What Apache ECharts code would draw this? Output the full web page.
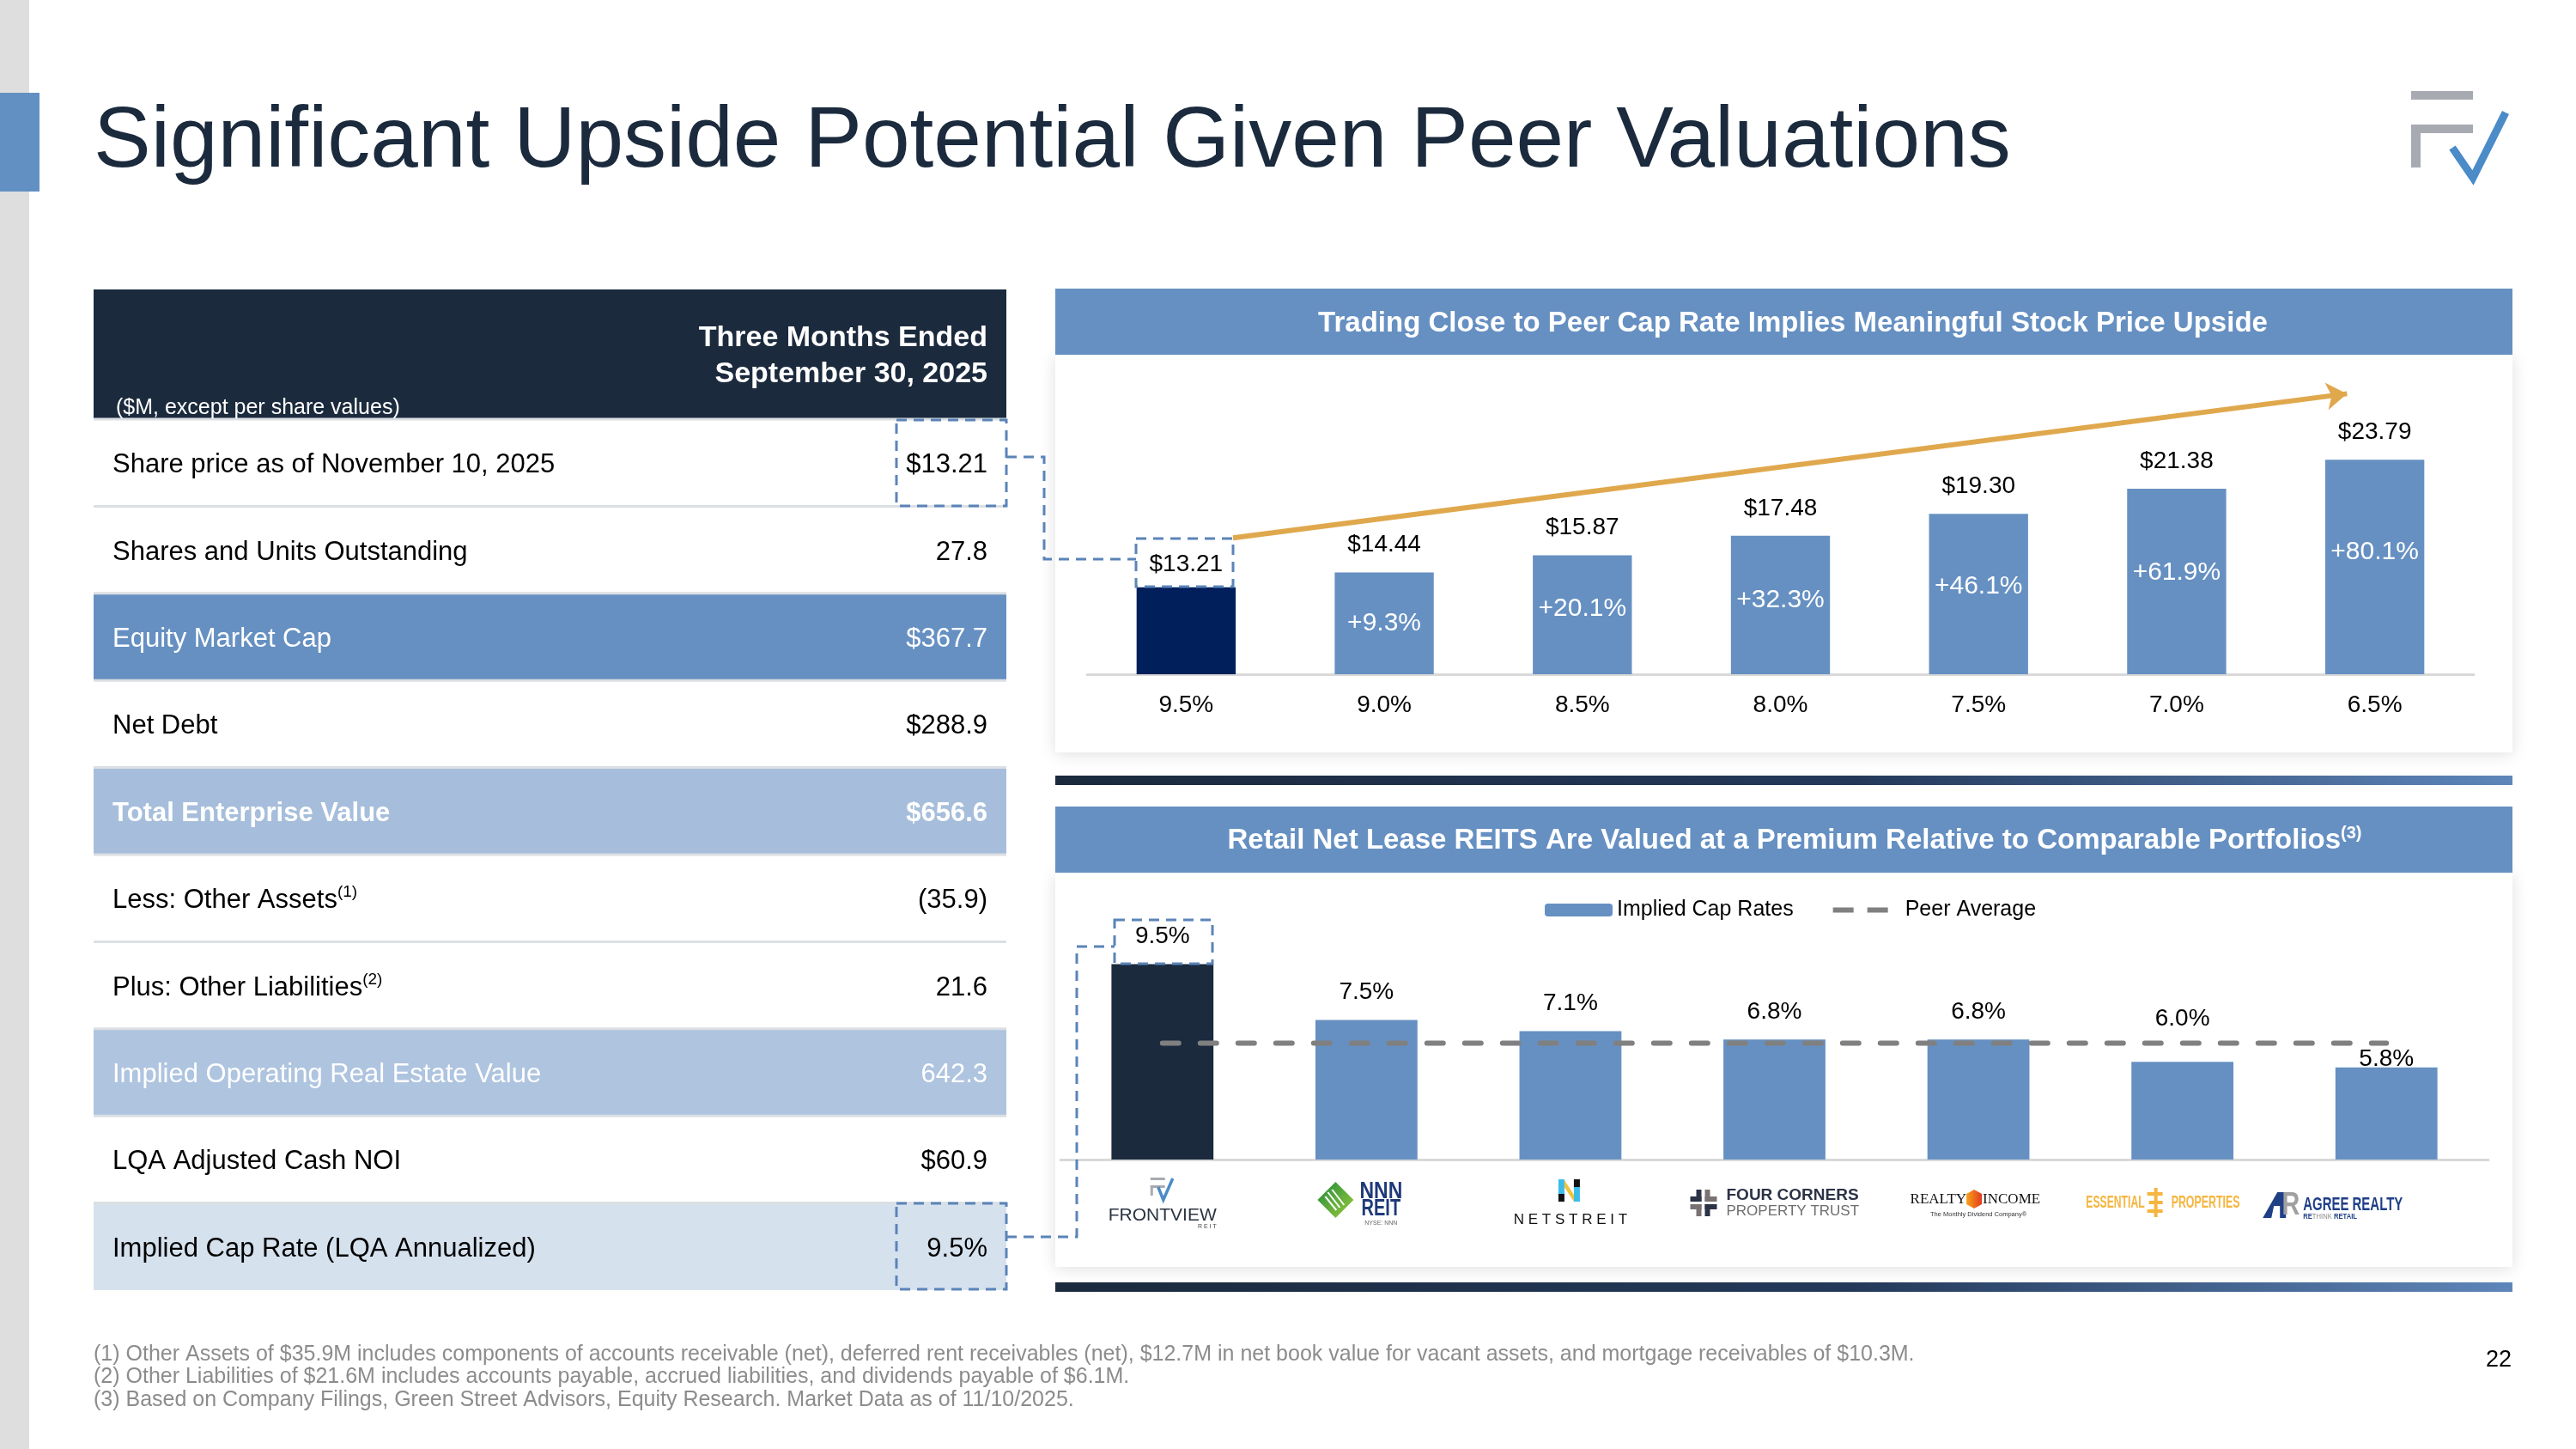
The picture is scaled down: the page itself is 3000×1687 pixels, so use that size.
<!DOCTYPE html>
<html>
<head>
<meta charset="utf-8">
<script src="https://cdn.jsdelivr.net/npm/echarts@6/dist/echarts.min.js"></script>
<style>html,body{margin:0;padding:0;background:#fff}#c{width:3000px;height:1687px}</style>
</head>
<body>
<div id="c"></div>
<script>
// ---------------- DATA ----------------
const tableLabels = ['Share price as of November 10, 2025', 'Shares and Units Outstanding', 'Equity Market Cap', 'Net Debt', 'Total Enterprise Value', 'Less: Other Assets', 'Plus: Other Liabilities', 'Implied Operating Real Estate Value', 'LQA Adjusted Cash NOI', 'Implied Cap Rate (LQA Annualized)'];
const tableNotes = ['', '', '', '', '', '(1)', '(2)', '', '', ''];
const tableValues = ['$13.21', '27.8', '$367.7', '$288.9', '$656.6', '(35.9)', '21.6', '642.3', '$60.9', '9.5%'];
const capRateScenarios = ['9.5%', '9.0%', '8.5%', '8.0%', '7.5%', '7.0%', '6.5%'];
const impliedPrices = [13.21, 14.44, 15.87, 17.48, 19.30, 21.38, 23.79];
const priceUpside = [null, 9.3, 20.1, 32.3, 46.1, 61.9, 80.1];
const peerNames = ['FrontView REIT', 'NNN REIT', 'NETSTREIT', 'Four Corners Property Trust', 'Realty Income', 'Essential Properties', 'Agree Realty'];
const peerCapRates = [9.5, 7.5, 7.1, 6.8, 6.8, 6.0, 5.8];
const peerAverage = 6.67;
const footnotes = [
  '(1) Other Assets of $35.9M includes components of accounts receivable (net), deferred rent receivables (net), $12.7M in net book value for vacant assets, and mortgage receivables of $10.3M.',
  '(2) Other Liabilities of $21.6M includes accounts payable, accrued liabilities, and dividends payable of $6.1M.',
  '(3) Based on Company Filings, Green Street Advisors, Equity Research. Market Data as of 11/10/2025.'
];

// ---------------- STYLE ----------------
const FONT = '"Liberation Sans", Arial, Helvetica, sans-serif';
const SERIF = '"Liberation Serif", "Times New Roman", serif';
const NAVY = '#1b2a3d';
const BLUE = '#6690c2';
const DASH = '#5b84b8';
const upsideOffsets = [0, 0, -7, -6, -9, -10, -17];
const priceLabelOffsets = [6, 0, 0, 0, 0, 0, 0];
const capLabelOffsets = [0, 0, 0, 0, 0, -18, 23];
const peerLegendIcon = 'path://M0,0L0.01,0M78.99,15L79,15M0,4.5H24V10.5H0ZM40,4.5H64V10.5H40Z';

const chart = echarts.init(document.getElementById('c'), null, {renderer: 'canvas'});

const option = {
  animation: false,
  backgroundColor: '#ffffff',
  textStyle: {fontFamily: FONT},
  grid: [
    {left: 1266, right: 119, top: 448, bottom: 902},
    {left: 1235, right: 102, top: 1057.5, bottom: 337}
  ],
  xAxis: [
    {type: 'category', gridIndex: 0, data: capRateScenarios,
      axisLine: {lineStyle: {color: '#d9d9d9', width: 3}}, axisTick: {show: false},
      axisLabel: {fontSize: 28, color: '#000', margin: 22, fontFamily: FONT}},
    {type: 'value', gridIndex: 0, min: -0.5, max: 6.5, show: false},
    {type: 'category', gridIndex: 1, data: peerNames,
      axisLine: {lineStyle: {color: '#d9d9d9', width: 3}}, axisTick: {show: false},
      axisLabel: {show: false}}
  ],
  yAxis: [
    {type: 'value', gridIndex: 0, min: 6, max: 30, startValue: 6, show: false, splitLine: {show: false}},
    {type: 'value', gridIndex: 1, min: 2.5, max: 11.5, startValue: 2.5, show: false, splitLine: {show: false}}
  ],
  legend: {
    data: [{name: 'Implied Cap Rates'}, {name: 'Peer Average', icon: peerLegendIcon, itemStyle: {color: '#808080', borderWidth: 0}}],
    left: 1794, top: 1042, itemWidth: 79, itemHeight: 15, itemGap: 46,
    textStyle: {fontSize: 25, color: '#000', fontFamily: FONT}
  },
  series: [
    {
      type: 'bar', name: 'Implied Share Price', xAxisIndex: 0, yAxisIndex: 0,
      barWidth: '50%', barGap: '-100%', clip: true,
      data: impliedPrices.map((v, i) => ({value: v, itemStyle: {color: i === 0 ? '#001f5b' : BLUE}, label: {offset: [0, priceLabelOffsets[i]]}})),
      label: {show: true, position: 'top', distance: 18, fontSize: 28, color: '#000', fontFamily: FONT,
        formatter: p => '$' + p.value.toFixed(2)}
    },
    {
      type: 'bar', name: 'Upside', xAxisIndex: 0, yAxisIndex: 0,
      barWidth: '50%', barGap: '-100%', silent: true, clip: true,
      itemStyle: {color: 'rgba(0,0,0,0)'},
      data: impliedPrices.map((v, i) => ({value: v, label: {show: priceUpside[i] != null, offset: [0, upsideOffsets[i]]}})),
      label: {position: 'inside', fontSize: 30, color: '#fff', fontFamily: FONT,
        formatter: p => priceUpside[p.dataIndex] == null ? '' : '+' + priceUpside[p.dataIndex].toFixed(1) + '%'}
    },
    {
      type: 'line', name: 'Trend', xAxisIndex: 1, yAxisIndex: 0, data: [], silent: true,
      markLine: {
        silent: true, symbol: ['none', 'arrow'], symbolSize: 24, animation: false,
        label: {show: false},
        itemStyle: {color: '#e0a84d'},
        lineStyle: {color: '#e0a84d', width: 6, type: 'solid'},
        emphasis: {disabled: true},
        data: [[{coord: [0.237, 17.31]}, {coord: [5.86, 29.26]}]]
      }
    },
    {
      type: 'bar', name: 'Implied Cap Rates', xAxisIndex: 2, yAxisIndex: 1,
      barWidth: '50%', clip: true, itemStyle: {color: BLUE},
      data: peerCapRates.map((v, i) => {
        const d = {value: v, label: {offset: [0, capLabelOffsets[i]]}};
        if (i === 0) d.itemStyle = {color: NAVY};
        return d;
      }),
      label: {show: true, position: 'top', distance: 18, fontSize: 28, color: '#000', fontFamily: FONT,
        formatter: p => p.value.toFixed(1) + '%'}
    },
    {
      type: 'line', name: 'Peer Average', xAxisIndex: 2, yAxisIndex: 1, z: 5,
      data: [[peerNames[0], peerAverage], [peerNames[peerNames.length - 1], peerAverage]],
      symbol: 'none', silent: true,
      itemStyle: {color: '#808080'},
      lineStyle: {color: '#808080', width: 6, type: [19, 25], cap: 'round'}
    }
  ]
};
chart.setOption(option);

// ---------------- DECORATION / TABLE (graphic) ----------------
function rect(x, y, w, h, fill, z, extra) {
  return Object.assign({type: 'rect', z: z == null ? 1 : z, silent: true, shape: {x, y, width: w, height: h}, style: {fill}}, extra || {});
}
function dashRect(x, y, w, h) {
  return {type: 'rect', z: 30, silent: true, shape: {x, y, width: w, height: h},
    style: {fill: 'none', stroke: DASH, lineWidth: 3, lineDash: [12, 8]}};
}
function dashLine(points) {
  return {type: 'polyline', z: 30, silent: true, shape: {points},
    style: {fill: 'none', stroke: DASH, lineWidth: 3, lineDash: [12, 8]}};
}
function text(x, y, str, size, color, o) {
  o = o || {};
  const el = {type: 'text', x, y, z: o.z == null ? 20 : o.z, silent: true,
    style: {text: str, fill: color, fontSize: size, fontFamily: o.family || FONT, fontWeight: o.weight || 'normal',
      align: o.align || 'left', textAlign: o.align || 'left', verticalAlign: o.va || 'middle', textVerticalAlign: o.va || 'middle'}};
  if (o.rich) el.style.rich = o.rich;
  if (o.scaleX) el.scaleX = o.scaleX;
  return el;
}
function poly(points, fill, z) {
  return {type: 'polygon', z: z == null ? 20 : z, silent: true, shape: {points}, style: {fill}};
}
function pline(points, stroke, w, z) {
  return {type: 'polyline', z: z == null ? 20 : z, silent: true, shape: {points}, style: {fill: 'none', stroke, lineWidth: w}};
}

const g = [];
// page frame
g.push(rect(0, 0, 34, 1687, '#dedede', 0));
g.push(rect(0, 108, 46, 115, '#6390c3', 1));
g.push(text(109, 166, 'Significant Upside Potential Given Peer Valuations', 100, NAVY));
// top-right logo
g.push(rect(2808, 106, 72, 10, '#a7aab0', 2));
g.push(rect(2808, 145, 72, 10, '#a7aab0', 2));
g.push(rect(2808, 145, 11, 50, '#a7aab0', 2));
g.push(pline([[2856, 172], [2880, 207], [2918, 131]], '#4a8bc8', 9, 3));

// table
const tL = 109, tR = 1172, tTop = 488, rowH = 101.4;
g.push(rect(tL, 337, tR - tL, 151, NAVY, 1));
g.push(text(1150, 394, 'Three Months Ended', 34, '#fff', {align: 'right', weight: 'bold'}));
g.push(text(1150, 436, 'September 30, 2025', 34, '#fff', {align: 'right', weight: 'bold'}));
g.push(text(135, 475, '($M, except per share values)', 25, '#fff'));
const rowFill = {2: '#6690c2', 4: '#a6bedb', 7: '#aec4df', 9: '#d6e1ee'};
const rowWhiteText = {2: true, 4: true, 7: true};
const rowBold = {4: true};
tableLabels.forEach((lab, i) => {
  const y0 = tTop + i * rowH;
  if (rowFill[i]) g.push(rect(tL, y0, tR - tL, rowH, rowFill[i], 1));
  g.push(rect(tL, y0 - 1.5, tR - tL, 3, '#dcdfe3', 2));
  const col = rowWhiteText[i] ? '#fff' : '#000';
  const wt = rowBold[i] ? 'bold' : 'normal';
  const cy = y0 + rowH / 2 + 3;
  if (tableNotes[i]) {
    g.push(text(131, cy, '{m|' + lab + '}{s|' + tableNotes[i] + '}', 31, col, {weight: wt, rich: {
      m: {fontSize: 31, fontFamily: FONT, fill: col, lineHeight: 38},
      s: {fontSize: 19, fontFamily: FONT, fill: col, lineHeight: 21, verticalAlign: 'top'}
    }}));
  } else {
    g.push(text(131, cy, lab, 31, col, {weight: wt}));
  }
  g.push(text(1150, cy, tableValues[i], 31, col, {weight: wt, align: 'right'}));
});
// table dashed highlights + connectors
g.push(dashRect(1044, 489, 128, 100));
g.push(dashRect(1044, 1401, 128, 100));
g.push(dashLine([[1172, 532], [1216, 532], [1216, 651], [1323, 651]]));
g.push(dashLine([[1172, 1440], [1254, 1440], [1254, 1102], [1298, 1102]]));

// panels
const pL = 1229, pW = 1697;
const shadow = {shadowBlur: 18, shadowColor: 'rgba(0,0,0,0.13)', shadowOffsetY: 2};
g.push(Object.assign(rect(pL, 413, pW, 463, '#fff', -5), {style: Object.assign({fill: '#fff'}, shadow)}));
g.push(Object.assign(rect(pL, 1016, pW, 459, '#fff', -5), {style: Object.assign({fill: '#fff'}, shadow)}));
g.push(rect(pL, 336, pW, 77, BLUE, 1));
g.push(rect(pL, 939, pW, 77, BLUE, 1));
const grad = {type: 'linear', x: 0, y: 0, x2: 1, y2: 0, colorStops: [{offset: 0, color: '#1b2a3d'}, {offset: 0.55, color: '#24395a'}, {offset: 1, color: '#5e86ba'}]};
g.push({type: 'rect', z: 1, silent: true, shape: {x: pL, y: 903, width: pW, height: 11}, style: {fill: grad}});
g.push({type: 'rect', z: 1, silent: true, shape: {x: pL, y: 1493, width: pW, height: 11}, style: {fill: grad}});
g.push(text(2088, 377, 'Trading Close to Peer Cap Rate Implies Meaningful Stock Price Upside', 33, '#fff', {align: 'center', weight: 'bold'}));
g.push(text(2090, 979, '{t|Retail Net Lease REITS Are Valued at a Premium Relative to Comparable Portfolios}{s|(3)}', 33, '#fff', {align: 'center', weight: 'bold', rich: {
  t: {fontSize: 33, fontWeight: 'bold', fontFamily: FONT, fill: '#fff', lineHeight: 38},
  s: {fontSize: 20, fontWeight: 'bold', fontFamily: FONT, fill: '#fff', lineHeight: 20, verticalAlign: 'top'}
}}));
// chart dashed boxes
g.push(dashRect(1323, 627, 113, 56));
g.push(dashRect(1298, 1071, 114, 51));

// footnotes & page number
footnotes.forEach((f, i) => g.push(text(109, 1577 + i * 26.5, f, 25, '#8c8c8c')));
g.push(text(2910, 1584, '22', 27, '#000', {align: 'center'}));

// peer logos positioned at category centres
const cxs = peerNames.map(n => chart.convertToPixel({xAxisIndex: 2, yAxisIndex: 1}, [n, 2.5])[0]);
(function () {
  let cx = cxs[0];
  // FrontView
  g.push(rect(cx - 14, 1371, 17, 3, '#a7aab0', 20));
  g.push(rect(cx - 14, 1380, 17, 3, '#a7aab0', 20));
  g.push(rect(cx - 14, 1380, 3, 12, '#a7aab0', 20));
  g.push(pline([[cx - 5, 1382], [cx + 1, 1397], [cx + 12, 1372]], '#4a8bc8', 3.5));
  g.push(text(cx, 1415, 'FRONTVIEW', 21, '#2b3440', {align: 'center'}));
  g.push(text(cx + 63, 1428, 'R E I T', 7, '#444', {align: 'right'}));

  // NNN REIT
  cx = cxs[1];
  const dx = cx - 36, dy = 1397;
  g.push(poly([[dx, dy - 21], [dx + 21, dy], [dx, dy + 21], [dx - 21, dy]],
    {type: 'linear', x: 0, y: 0, x2: 1, y2: 1, colorStops: [{offset: 0, color: '#1f8a3b'}, {offset: 1, color: '#9ccb3b'}]}));
  g.push(pline([[dx - 9, dy - 9], [dx + 5, dy + 9]], '#fff', 2, 21));
  g.push(pline([[dx - 4, dy - 12], [dx + 10, dy + 6]], '#fff', 2, 21));
  g.push(pline([[dx - 12, dy - 4], [dx + 1, dy + 12]], '#fff', 2, 21));
  g.push(text(cx + 17, 1387, 'NNN', 28, '#1f3a7a', {align: 'center', weight: 'bold', scaleX: 0.82}));
  g.push(text(cx + 17, 1408, 'REIT', 27, '#1f3a7a', {align: 'center', weight: 'bold', scaleX: 0.74}));
  g.push(text(cx + 17, 1424, 'NYSE: NNN', 7, '#666', {align: 'center'}));

  // NETSTREIT
  cx = cxs[2];
  g.push(rect(cx - 14, 1373, 7, 17, '#3cbde9', 20));
  g.push(rect(cx - 14, 1390, 7, 9, '#111', 20));
  g.push(rect(cx + 4, 1373, 7, 9, '#111', 20));
  g.push(rect(cx + 4, 1382, 7, 17, '#3cbde9', 20));
  g.push(poly([[cx - 7, 1374], [cx + 4, 1391], [cx + 4, 1399], [cx - 7, 1382]], '#f2c23a'));
  g.push(text(cx, 1420, 'N E T S T R E I T', 17, '#111', {align: 'center'}));

  // Four Corners
  cx = cxs[3];
  const x0 = cx - 98, y0 = 1385, nv = '#2c3347', gr = '#7a7272';
  g.push(rect(x0 + 7, y0, 6, 14, nv, 20)); g.push(rect(x0, y0 + 8, 13, 6, nv, 20));
  g.push(rect(x0 + 17, y0, 6, 14, gr, 20)); g.push(rect(x0 + 17, y0 + 8, 14, 6, gr, 20));
  g.push(rect(x0, y0 + 17, 13, 6, gr, 20)); g.push(rect(x0 + 7, y0 + 17, 6, 14, gr, 20));
  g.push(rect(x0 + 17, y0 + 17, 14, 6, nv, 20)); g.push(rect(x0 + 17, y0 + 17, 6, 14, nv, 20));
  g.push(text(cx - 56, 1392, 'FOUR CORNERS', 19, nv, {weight: 'bold'}));
  g.push(text(cx - 56, 1410.5, 'PROPERTY TRUST', 17, '#6d6d6d'));

  // Realty Income
  cx = cxs[4];
  g.push(text(cx - 14, 1397, 'REALTY', 17, '#111', {align: 'right', family: SERIF}));
  const hx = cx - 5, hy = 1396;
  g.push(poly([[hx, hy - 11], [hx + 9, hy - 6], [hx + 9, hy + 6], [hx, hy + 11], [hx - 9, hy + 6], [hx - 9, hy - 6]],
    {type: 'linear', x: 0, y: 0, x2: 1, y2: 0, colorStops: [{offset: 0, color: '#f7a21b'}, {offset: 1, color: '#e23b1c'}]}));
  g.push(text(cx + 5, 1397, 'INCOME', 17, '#111', {family: SERIF}));
  g.push(text(cx, 1414, 'The Monthly Dividend Company®', 7.5, '#333', {align: 'center'}));

  // Essential Properties
  cx = cxs[5];
  const ey = '#f5b53f';
  g.push(text(cx - 44, 1400, 'ESSENTIAL', 21, ey, {align: 'right', weight: 'bold', scaleX: 0.58}));
  g.push(rect(cx - 33, 1383, 4, 34, ey, 20));
  g.push(rect(cx - 41, 1388, 18, 4, ey, 20));
  g.push(rect(cx - 39, 1398, 16, 4, ey, 20));
  g.push(rect(cx - 41, 1408, 18, 4, ey, 20));
  g.push(text(cx - 13, 1400, 'PROPERTIES', 21, ey, {weight: 'bold', scaleX: 0.59}));

  // Agree Realty
  cx = cxs[6];
  const an = '#1f3f87';
  g.push(poly([[cx - 144, 1418], [cx - 127, 1388], [cx - 117, 1388], [cx - 117, 1418], [cx - 124, 1418], [cx - 124, 1404], [cx - 131, 1404], [cx - 134, 1418]], an));
  g.push(text(cx - 101, 1404, 'R', 36, '#a0a0a0', {align: 'right', weight: 'bold', scaleX: 0.8}));
  g.push(text(cx - 97, 1403, 'AGREE REALTY', 22, an, {weight: 'bold', scaleX: 0.68}));
  g.push(text(cx - 97, 1417, '{b|RE}{r|THINK }{b|RETAIL}', 9, an, {scaleX: 0.85, rich: {
    b: {fontSize: 9, fontWeight: 'bold', fontFamily: FONT, fill: an},
    r: {fontSize: 9, fontFamily: FONT, fill: '#8a8a8a'}
  }}));
})();

chart.setOption({graphic: g});
</script>
</body>
</html>
